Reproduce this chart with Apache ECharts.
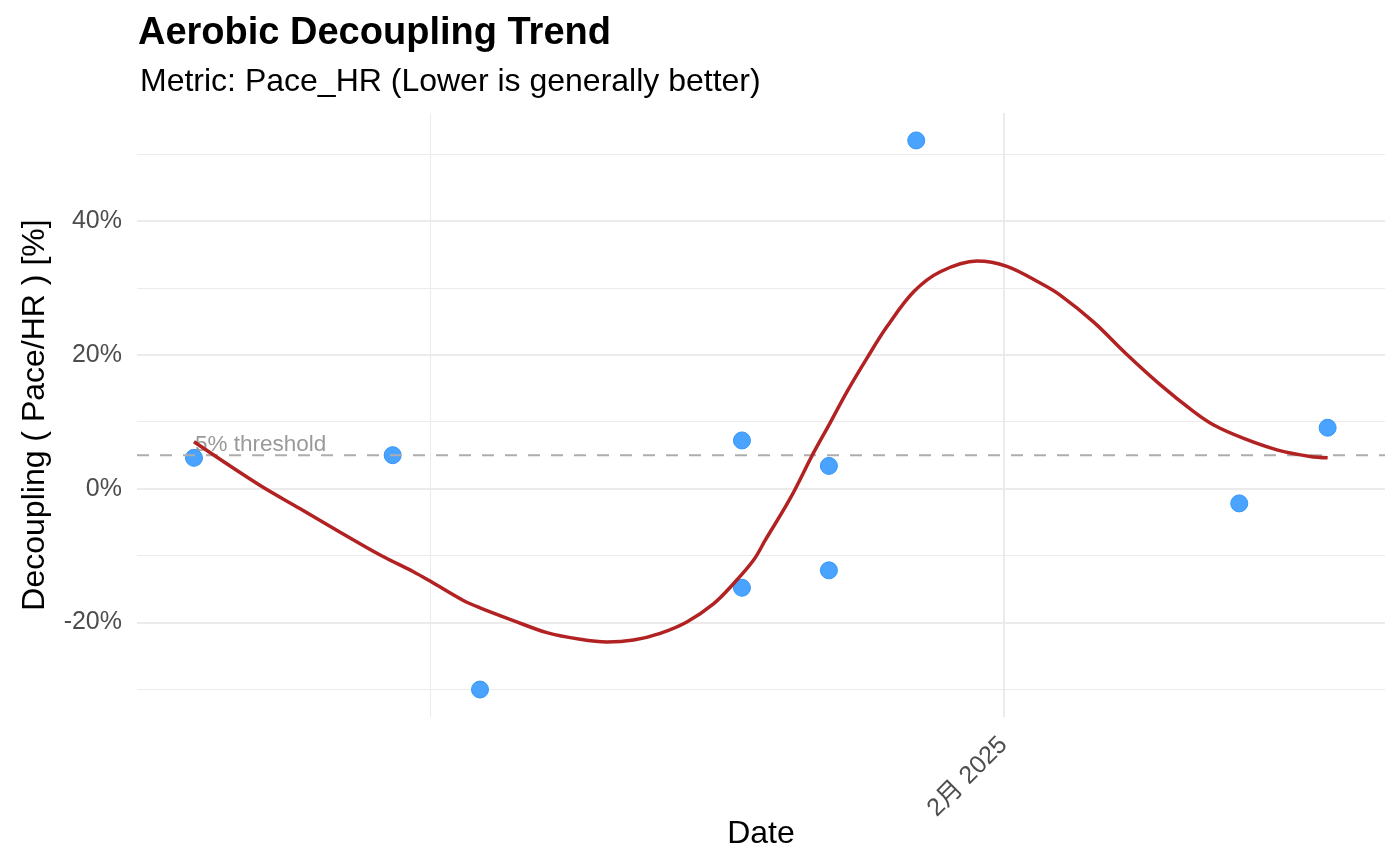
<!DOCTYPE html>
<html><head><meta charset="utf-8">
<script src="https://cdn.jsdelivr.net/npm/echarts@6/dist/echarts.min.js"></script>
<style>html,body{margin:0;padding:0;background:#fff}#c{width:1400px;height:866px}</style>
</head><body><div id="c"></div>
<script>
// ---- data ----
const pointDates = ['2025-01-10 02:53','2025-01-15 11:46','2025-01-17 20:24','2025-01-24 22:19','2025-01-24 22:19',
  '2025-01-27 06:43','2025-01-27 06:43','2025-01-29 15:22','2025-02-07 08:53','2025-02-09 18:14'];
const pointValues = [4.6, 5.0, -30.0, 7.2, -14.8, 3.4, -12.2, 52.0, -2.2, 9.1];

const smoothDates = ['2025-01-10 02:53','2025-01-11 21:36','2025-01-12 23:46','2025-01-14 01:41','2025-01-15 03:36',
  '2025-01-16 01:12','2025-01-16 12:00','2025-01-17 09:36','2025-01-17 20:24','2025-01-18 18:00','2025-01-19 15:50',
  '2025-01-20 13:26','2025-01-21 06:43','2025-01-22 00:00','2025-01-22 17:17','2025-01-23 10:34','2025-01-24 03:50',
  '2025-01-24 16:48','2025-01-25 05:46','2025-01-25 13:26','2025-01-26 05:31','2025-01-26 20:38','2025-01-27 07:26',
  '2025-01-27 18:29','2025-01-28 07:26','2025-01-28 20:24','2025-01-29 13:41','2025-01-30 06:58','2025-01-31 06:43',
  '2025-02-01 02:10','2025-02-01 23:46','2025-02-02 12:43','2025-02-03 10:19','2025-02-04 08:10','2025-02-05 05:46',
  '2025-02-06 03:22','2025-02-06 16:19','2025-02-07 11:46','2025-02-08 09:22','2025-02-09 06:58','2025-02-09 18:14'];
const smoothValues = [7.0, 0.5, -3.0, -6.5, -9.9, -12.4, -13.8, -16.7, -17.8, -19.7, -21.5,
  -22.5, -22.9, -22.6, -21.6, -19.9, -17.2, -14.2, -10.7, -7.7, -1.5, 5.3, 9.8,
  14.5, 19.5, 24.2, 29.4, 32.4, 34.0, 33.2, 30.7, 28.9, 24.9, 20.0, 15.5,
  11.5, 9.5, 7.5, 5.8, 4.8, 4.6];

const yTicks = [-20, 0, 20, 40];
const yMinorTicks = [-30, -10, 10, 30, 50];
const xTicks = ['2025-02-01 00:00'];
const xTickLabels = ['2月 2025'];
const xMinorTicks = ['2025-01-16 12:00'];
const xRange = ['2025-01-08 13:55', '2025-02-11 07:26'];
const yRange = [-34.1, 56.1];
const threshold = 5;
const thresholdLabel = '5% threshold';

const titleText = 'Aerobic Decoupling Trend';
const subtitleText = 'Metric: Pace_HR (Lower is generally better)';
const xName = 'Date';
const yName = 'Decoupling ( Pace/HR ) [%]';

// ---- build ----
const ts = s => new Date(s.replace(' ', 'T')).getTime();
const FONT = '"Liberation Sans", Arial, "Noto Sans CJK SC", sans-serif';
const GRID = '#EBEBEB';
const xTickTs = xTicks.map(ts);
const xMin = ts(xRange[0]), xMax = ts(xRange[1]);

const chart = echarts.init(document.getElementById('c'), null, {renderer: 'canvas'});
const option = {
  backgroundColor: '#fff',
  animation: false,
  textStyle: {fontFamily: FONT},
  title: [
    {text: titleText, left: 133, top: 10,
     textStyle: {fontFamily: FONT, fontSize: 38, fontWeight: 'bold', color: '#000'}},
    {text: subtitleText, left: 135, top: 61,
     textStyle: {fontFamily: FONT, fontSize: 32, fontWeight: 'normal', color: '#000'}}
  ],
  grid: {left: 137, right: 15, top: 113, bottom: 149, containLabel: false},
  xAxis: [{
    type: 'value', min: xMin, max: xMax,
    name: xName, nameLocation: 'middle', nameGap: 101, nameMoveOverlap: false,
    nameTextStyle: {fontFamily: FONT, fontSize: 32, color: '#000'},
    axisLine: {show: false},
    axisTick: {show: false, customValues: xTickTs},
    axisLabel: {
      customValues: xTickTs, rotate: 45, margin: 24,
      fontFamily: FONT, fontSize: 25, color: '#4D4D4D',
      formatter: v => { const i = xTickTs.indexOf(v); return i >= 0 ? xTickLabels[i] : ''; }
    },
    splitLine: {show: true, lineStyle: {color: GRID, width: 2}},
    z: 1
  }, {
    type: 'value', min: xMin, max: xMax, position: 'top',
    axisLine: {show: false},
    axisTick: {show: false, customValues: xMinorTicks.map(ts)},
    axisLabel: {show: false, customValues: xMinorTicks.map(ts)},
    splitLine: {show: true, lineStyle: {color: GRID, width: 1}},
    z: 0
  }],
  yAxis: [{
    type: 'value', min: yRange[0], max: yRange[1],
    name: yName, nameLocation: 'middle', nameGap: 86, nameMoveOverlap: false,
    nameTextStyle: {fontFamily: FONT, fontSize: 32, color: '#000'},
    axisLine: {show: false},
    axisTick: {show: false, customValues: yTicks},
    axisLabel: {customValues: yTicks, margin: 15, fontFamily: FONT, fontSize: 25, color: '#4D4D4D',
      formatter: v => v + '%'},
    splitLine: {show: true, lineStyle: {color: GRID, width: 2}},
    z: 1
  }, {
    type: 'value', min: yRange[0], max: yRange[1], position: 'right',
    axisLine: {show: false},
    axisTick: {show: false, customValues: yMinorTicks},
    axisLabel: {show: false, customValues: yMinorTicks},
    splitLine: {show: true, lineStyle: {color: GRID, width: 1}},
    z: 0
  }],
  series: [
    {
      name: 'points', type: 'scatter', z: 2,
      symbol: 'circle', symbolSize: 17,
      itemStyle: {color: '#4AA4FF', borderColor: '#3496F8', borderWidth: 1, opacity: 1},
      data: pointDates.map((d, i) => [ts(d), pointValues[i]])
    },
    {
      name: 'threshold', type: 'line', z: 3, silent: true,
      showSymbol: false, symbol: 'none',
      lineStyle: {color: '#ADADAD', width: 2, type: [12, 11]},
      data: [[xMin, threshold], [xMax, threshold]]
    },
    {
      name: 'thresholdLabel', type: 'scatter', z: 3, silent: true,
      symbolSize: 0,
      label: {show: true, position: 'right', distance: 1, offset: [0, -10],
        formatter: thresholdLabel, fontFamily: FONT, fontSize: 22.5, color: '#7F7F7F'},
      data: [[ts(pointDates[0]), threshold]]
    },
    {
      name: 'smooth', type: 'line', z: 4, smooth: 0.35, showSymbol: false, symbol: 'none',
      lineStyle: {color: '#B22222', width: 3.5},
      data: smoothDates.map((d, i) => [ts(d), smoothValues[i]])
    }
  ]
};
chart.setOption(option);
</script>
</body></html>
